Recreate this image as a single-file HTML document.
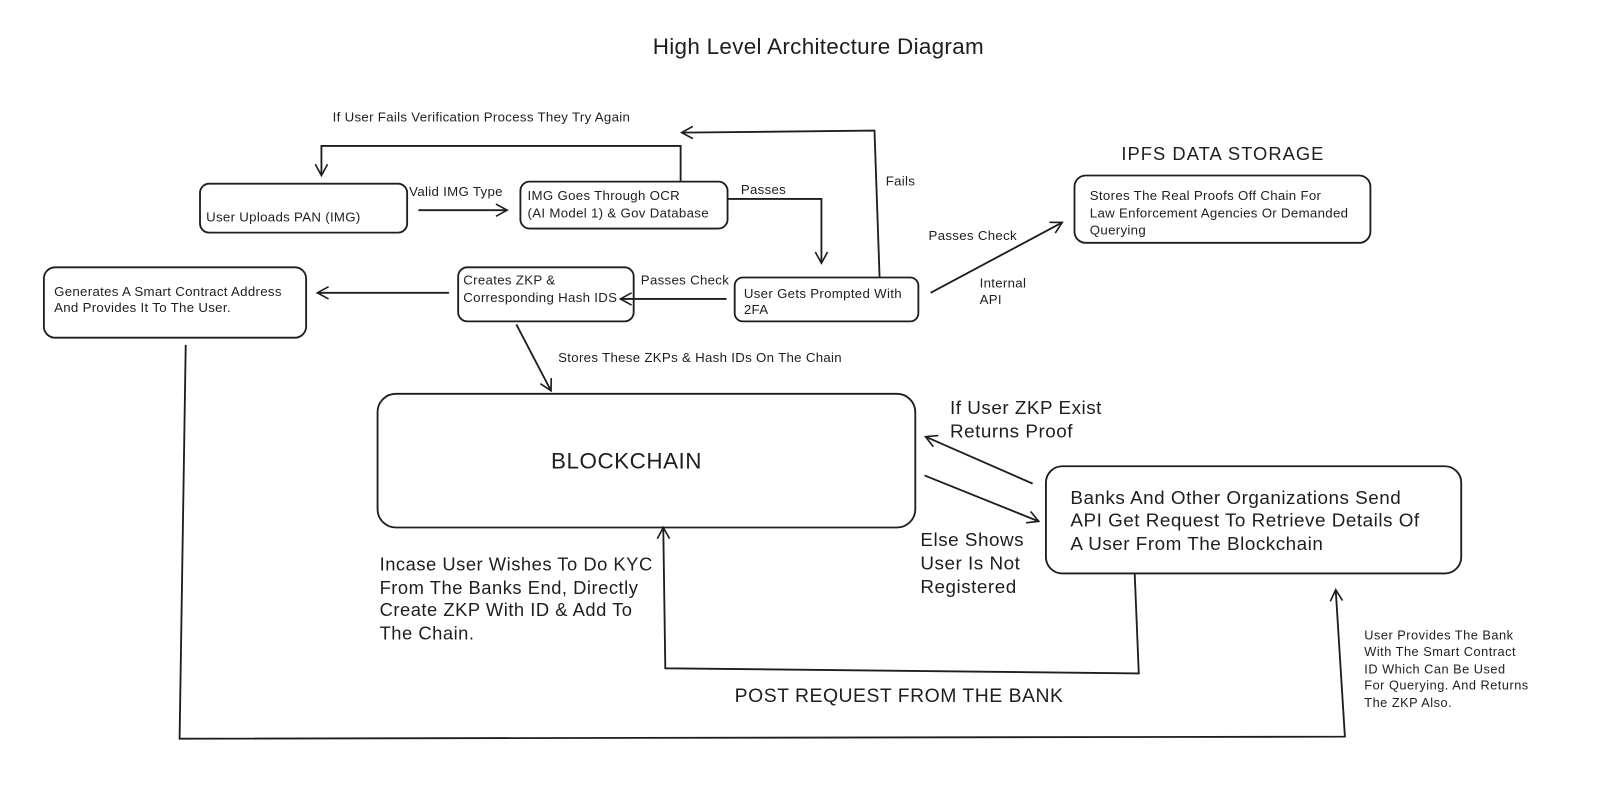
<!DOCTYPE html>
<html><head><meta charset="utf-8"><style>
html,body{margin:0;padding:0;background:#fff;}
svg{display:block}
text{font-family:"Liberation Sans","DejaVu Sans",sans-serif;fill:#1e1e1e;letter-spacing:0.5px;}
.s{font-size:13px;letter-spacing:0.3px}
.m{font-size:18.5px}
</style></head><body>
<svg width="1600" height="805" viewBox="0 0 1568 789" preserveAspectRatio="none" xmlns="http://www.w3.org/2000/svg">
<defs>
<marker id="a" markerWidth="14" markerHeight="14" refX="12" refY="7" orient="auto" markerUnits="userSpaceOnUse">
<path d="M1,1 L12,7 L1,13" fill="none" stroke="#1e1e1e" stroke-width="1.6"/>
</marker>
</defs>
<g fill="none" stroke="#1e1e1e" stroke-width="1.8">
<rect x="196" y="180" width="203" height="48" rx="9"/>
<rect x="510" y="178" width="203" height="46" rx="9"/>
<rect x="720" y="272" width="180" height="43" rx="8"/>
<rect x="449" y="262" width="172" height="53" rx="9"/>
<rect x="43" y="262" width="257" height="69" rx="11"/>
<rect x="370" y="386" width="527" height="131" rx="18"/>
<rect x="1053" y="172" width="290" height="66" rx="11"/>
<rect x="1025" y="457" width="407" height="105" rx="16"/>

<line x1="410" y1="206" x2="497" y2="206" marker-end="url(#a)"/>
<polyline points="713,195 805,195 805,258" marker-end="url(#a)"/>
<polyline points="862,272 857,128 668,130" marker-end="url(#a)"/>
<polyline points="667,178 667,143 315,143 315,172" marker-end="url(#a)"/>
<line x1="712" y1="293" x2="608" y2="293" marker-end="url(#a)"/>
<line x1="440" y1="287" x2="311" y2="287" marker-end="url(#a)"/>
<line x1="506" y1="318" x2="540" y2="383" marker-end="url(#a)"/>
<line x1="912" y1="287" x2="1041" y2="218" marker-end="url(#a)"/>
<line x1="1012" y1="474" x2="907" y2="428" marker-end="url(#a)"/>
<line x1="906" y1="466" x2="1018" y2="511" marker-end="url(#a)"/>
<polyline points="1112,562 1116,660 652,655 650,517" marker-end="url(#a)"/>
<polyline points="182,338 176,724 1318,722 1309,578" marker-end="url(#a)"/>
</g>

<text x="802" y="53" font-size="22" text-anchor="middle" style="letter-spacing:0.3px">High Level Architecture Diagram</text>
<text class="s" x="202" y="217">User Uploads PAN (IMG)</text>
<text class="s" x="401" y="192">Valid IMG Type</text>
<text class="s" x="517" y="196">IMG Goes Through OCR</text>
<text class="s" x="517" y="213">(AI Model 1) &amp; Gov Database</text>
<text class="s" x="726" y="190">Passes</text>
<text class="s" x="326" y="119">If User Fails Verification Process They Try Again</text>
<text class="s" x="868" y="182">Fails</text>
<text class="s" x="729" y="292">User Gets Prompted With</text>
<text class="s" x="729" y="308">2FA</text>
<text class="s" x="628" y="279">Passes Check</text>
<text class="s" x="454" y="279">Creates ZKP &amp;</text>
<text class="s" x="454" y="296">Corresponding Hash IDS</text>
<text class="s" x="53" y="290">Generates A Smart Contract Address</text>
<text class="s" x="53" y="306">And Provides It To The User.</text>
<text class="s" x="547" y="355">Stores These ZKPs &amp; Hash IDs On The Chain</text>
<text x="540" y="459" font-size="22">BLOCKCHAIN</text>
<text class="s" x="910" y="235">Passes Check</text>
<text class="s" x="960" y="282">Internal</text>
<text class="s" x="960" y="298">API</text>
<text x="1099" y="157" font-size="18" style="letter-spacing:1px">IPFS DATA STORAGE</text>
<text class="s" x="1068" y="196">Stores The Real Proofs Off Chain For</text>
<text class="s" x="1068" y="213">Law Enforcement Agencies Or Demanded</text>
<text class="s" x="1068" y="230">Querying</text>
<text class="m" x="931" y="406">If User ZKP Exist</text>
<text class="m" x="931" y="429">Returns Proof</text>
<text class="m" x="902" y="535">Else Shows</text>
<text class="m" x="902" y="558">User Is Not</text>
<text class="m" x="902" y="581">Registered</text>
<text class="m" x="1049" y="494">Banks And Other Organizations Send</text>
<text class="m" x="1049" y="516">API Get Request To Retrieve Details Of</text>
<text class="m" x="1049" y="539">A User From The Blockchain</text>
<text font-size="18" x="372" y="559">Incase User Wishes To Do KYC</text>
<text font-size="18" x="372" y="582">From The Banks End, Directly</text>
<text font-size="18" x="372" y="604">Create ZKP With ID &amp; Add To</text>
<text font-size="18" x="372" y="627">The Chain.</text>
<text font-size="19" x="720" y="688">POST REQUEST FROM THE BANK</text>
<text font-size="12.5" x="1337" y="627">User Provides The Bank</text>
<text font-size="12.5" x="1337" y="643">With The Smart Contract</text>
<text font-size="12.5" x="1337" y="660">ID Which Can Be Used</text>
<text font-size="12.5" x="1337" y="676">For Querying. And Returns</text>
<text font-size="12.5" x="1337" y="693">The ZKP Also.</text>
</svg>
</body></html>
